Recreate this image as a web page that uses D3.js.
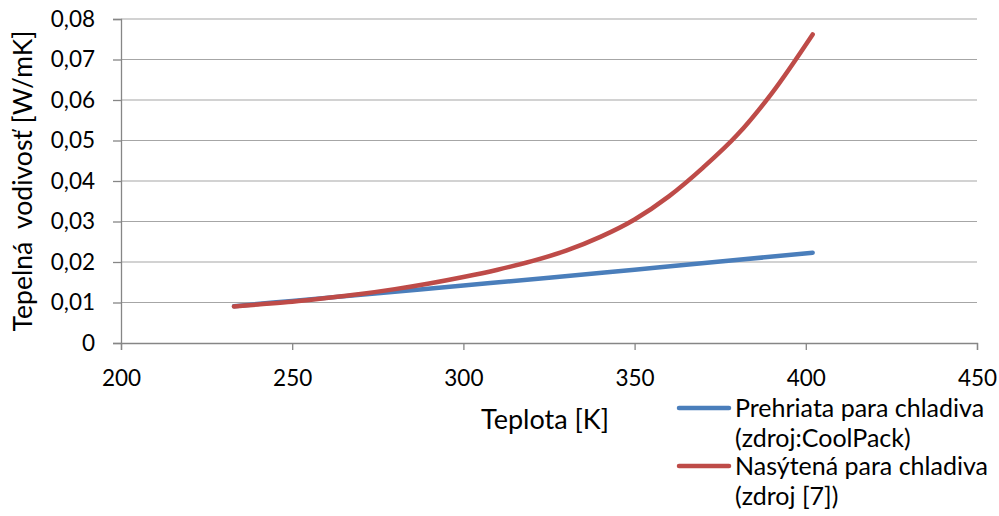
<!DOCTYPE html>
<html><head><meta charset="utf-8">
<script src="https://cdn.jsdelivr.net/npm/d3@7"></script>
<style>body{margin:0;background:#fff}text{font-family:Lato,"Open Sans",sans-serif;fill:#000}</style>
</head><body><svg id="c" width="999" height="516"></svg>
<script>
const seriesNames = ["Prehriata para chladiva|(zdroj:CoolPack)", "Nasýtená para chladiva|(zdroj [7])"];
const blueT = [233, 250, 275, 300, 325, 350, 375, 402];
const blueV = [0.0091, 0.0104, 0.0123, 0.0142, 0.0161, 0.0181, 0.0201, 0.0223];
const redT = [233, 240, 250, 260, 270, 280, 290, 300, 310, 320, 330, 340, 350, 360, 370, 380, 390, 402];
const redV = [0.0090, 0.0095, 0.0102, 0.0111, 0.0121, 0.0133, 0.0147, 0.0163, 0.0181, 0.0202, 0.0228, 0.0262, 0.0305, 0.0362, 0.0433, 0.0514, 0.0616, 0.0762];
const xTicks = [200, 250, 300, 350, 400, 450];
const yTicks = [0, 0.01, 0.02, 0.03, 0.04, 0.05, 0.06, 0.07, 0.08];
const colors = ["#4a7ebb", "#be4b48"];

const svg = d3.select("#c");
const x = d3.scaleLinear().domain([200, 450]).range([121, 977]);
const y = d3.scaleLinear().domain([0, 0.08]).range([343, 19]);
const fmt = v => v === 0 ? "0" : d3.format(".2f")(v).replace(".", ",");

// gridlines
svg.append("g").selectAll("line").data(yTicks.slice(1)).join("line")
  .attr("x1", 121).attr("x2", 977).attr("y1", d => y(d)).attr("y2", d => y(d))
  .attr("stroke", "#a6a6a6").attr("stroke-width", 1.2);

// y axis
const ya = svg.append("g").attr("transform", "translate(121,0)")
  .call(d3.axisLeft(y).tickValues(yTicks).tickFormat(fmt).tickSize(8).tickPadding(18));
ya.select(".domain").attr("stroke", "#868686").attr("stroke-width", 1.3);
ya.selectAll(".tick line").attr("stroke", "#868686").attr("stroke-width", 1.3);
ya.selectAll("text").attr("font-size", 22.5).attr("font-family", "Lato").attr("fill", "#000");

// x axis
const xa = svg.append("g").attr("transform", "translate(0,343)")
  .call(d3.axisBottom(x).tickValues(xTicks).tickFormat(d3.format("d")).tickSize(7).tickPadding(20));
xa.select(".domain").attr("stroke", "#868686").attr("stroke-width", 1.3);
xa.selectAll(".tick line").attr("stroke", "#868686").attr("stroke-width", 1.3);
xa.selectAll("text").attr("font-size", 22.5).attr("font-family", "Lato").attr("fill", "#000");

// lines
const line = d3.line().x(d => x(d[0])).y(d => y(d[1])).curve(d3.curveMonotoneX);
const data = [d3.zip(blueT, blueV), d3.zip(redT, redV)];
svg.append("g").selectAll("path").data(data).join("path")
  .attr("d", line).attr("fill", "none")
  .attr("stroke", (d, i) => colors[i]).attr("stroke-width", 4.5)
  .attr("stroke-linecap", "round").attr("stroke-linejoin", "round");

// axis titles
svg.append("text").attr("x", 545).attr("y", 429).attr("text-anchor", "middle")
  .attr("font-size", 27).text("Teplota [K]");
svg.append("text").attr("transform", "translate(32,181) rotate(-90)").attr("text-anchor", "middle")
  .attr("font-size", 26.5).attr("xml:space", "preserve").text("Tepelná  vodivosť [W/mK]");

// legend
const lg = svg.append("g");
seriesNames.forEach((n, i) => {
  const yy = 408 + i * 58;
  lg.append("line").attr("x1", 679).attr("x2", 729).attr("y1", yy).attr("y2", yy)
    .attr("stroke", colors[i]).attr("stroke-width", 4.5).attr("stroke-linecap", "round");
  const parts = n.split("|");
  parts.forEach((p, j) => {
    lg.append("text").attr("x", 735).attr("y", yy + 9 + j * 30).attr("font-size", 25).text(p);
  });
});
</script></body></html>
